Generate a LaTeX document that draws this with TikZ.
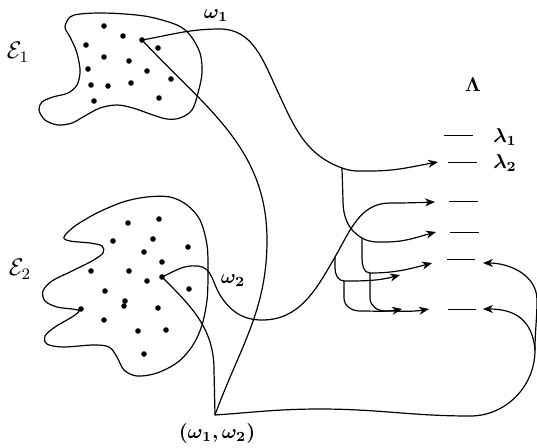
\documentclass[tikz,border=0pt]{standalone}
\usepackage{amsmath,amssymb,bm}
\usepackage{tikz}
\usetikzlibrary{arrows.meta}

\tikzset{
  lvl/.style={inner sep=0pt,minimum width=13.5pt,minimum height=0pt},
  flow/.style={-{Stealth[length=5pt,width=4pt]}},
  lab/.style={font=\normalsize},
}

\begin{document}
\begin{tikzpicture}[x=0.5pt,y=0.5pt,semithick]
    \useasboundingbox (0,0) rectangle (537,-447);
    % Region E_1
    \draw plot[smooth cycle,tension=0.55] coordinates {
      (65,-27) (70,-17) (80,-14) (100,-13) (125,-14) (150,-17) (177,-25)
      (190,-35) (200,-53) (202,-73) (198,-93) (192,-110) (180,-118)
      (167,-119) (153,-115) (133,-108) (117,-105) (100,-108) (83,-117)
      (72,-123) (58,-125) (45,-120) (39,-110) (42,-102) (53,-97)
      (68,-93) (77,-85) (80,-73) (79,-62) (76,-50) (70,-37)};
    \foreach \x/\y in {104/26,123/36,158/48,86/45,104/57,129/61,88/69,
      147/71,171/79,91/85,108/86,131/83,94/101,159/98}
      \fill (\x,-\y) circle (1.4pt);
    % Region E_2
    \draw plot[smooth cycle,tension=0.55] coordinates {
      (64,-237) (75,-226) (97,-213) (123,-202) (147,-197) (170,-197)
      (187,-205) (200,-220) (207,-245) (208,-273) (207,-300) (202,-325)
      (193,-345) (178,-362) (157,-373) (137,-376) (124,-370) (117,-357)
      (109,-347) (93,-345) (63,-347) (47,-344) (45,-336) (55,-327)
      (72,-317) (79,-311) (72,-309) (57,-307) (45,-301) (43,-291)
      (52,-281) (72,-271) (92,-261) (103,-253) (102,-246) (90,-243)
      (70,-241)};
    \foreach \x/\y in {128/223,159/219,113/241,153/239,188/247,144/252,
      162/262,91/271,129/271,147/281,105/291,189/289,125/301,124/306,
      81/309,158/308,104/320,138/331,166/330,144/354}
      \fill (\x,-\y) circle (1.4pt);
    % Sample points
    \coordinate (w1) at (142,-40);
    \coordinate (w2) at (162,-277);
    \coordinate (w12) at (215,-415);
    \fill (w1) circle (1.4pt);
    \fill (w2) circle (1.4pt);
    % Labels
    \node[font=\large] (E1) at (18,-52) {$\mathcal{E}_1$};
    \node[font=\large] (E2) at (20,-269) {$\mathcal{E}_2$};
    \node[lab] (w1lab) at (216,-16) {$\bm{\omega_1}$};
    \node[lab] (w2lab) at (233,-281) {$\bm{\omega_2}$};
    \node[lab] (w12lab) at (217,-433) {$\bm{(\omega_1,\omega_2)}$};
    \node[lab] (Lam) at (473,-85) {$\bm{\Lambda}$};
    % Spectrum levels
    \node[lvl] (l1) at (458.5,-135) {};
    \node[lvl] (l2) at (462.5,-162) {};
    \node[lvl] (l3) at (463.5,-201) {};
    \node[lvl] (l4) at (464.5,-232) {};
    \node[lvl] (l5) at (461,-259) {};
    \node[lvl] (l6) at (462,-309) {};
    \foreach \n in {l1,l2,l3,l4,l5,l6}
      \draw[thin] (\n.west) -- (\n.east);
    \node[lab,anchor=west] (lam1) at (486,-137) {$\bm{\lambda_1}$};
    \node[lab,anchor=west] (lam2) at (486,-163) {$\bm{\lambda_2}$};
    % Arrow ends
    \coordinate (a2) at (438,-162);
    \coordinate (a3) at (435,-202);
    \coordinate (a4) at (436,-232);
    \coordinate (a5) at (432,-263);
    \coordinate (a6) at (429,-309);
    \coordinate (a7) at (400,-275);
    \coordinate (a8) at (402,-309);
    \coordinate (a9) at (483,-263);
    \coordinate (a10) at (483,-309);
    % Branch points
    \coordinate (b1) at (342,-168);
    \coordinate (c1) at (362,-238);
    \coordinate (c2) at (370,-273);
    \coordinate (c3) at (335,-257);
    \coordinate (c4) at (344,-281);
    \coordinate (s) at (535,-350);
    % Paths into (omega_1,omega_2)
    \draw (w1) to[out=-47,in=90] (267,-240) to[out=-90,in=70] (w12);
    \draw (w2) to[out=-45,in=90] (214,-370) -- (w12);
    % omega_1 path
    \draw[flow] (w1) to[out=10,in=180] (220,-29) to[out=0,in=115] (277,-90)
      to[out=-65,in=160] (b1) to[out=-20,in=180] (370,-171)
      to[out=0,in=190] (a2);
    \draw[flow] (b1) -- (343,-200) to[out=-90,in=150] (c1)
      to[out=-30,in=180] (385,-242) to[out=0,in=195] (a4);
    \draw[flow] (c1) -- (362,-258) to[out=-90,in=180] (c2)
      to[out=0,in=195] (a5);
    \draw[flow] (c2) -- (370,-298) to[out=-90,in=180] (385,-311)
      to[out=0,in=190] (a6);
    % omega_2 path
    \draw[flow] (w2) to[out=25,in=175] (198,-266) to[out=-5,in=122] (220,-295)
      to[out=-58,in=180] (262,-320) to[out=0,in=-120] (c3)
      to[out=60,in=180] (390,-203) to[out=0,in=182] (a3);
    \draw[flow] (c3) -- (335,-268) to[out=-90,in=180] (c4)
      to[out=0,in=195] (a7);
    \draw[flow] (c4) -- (344,-298) to[out=-90,in=180] (360,-311)
      to[out=0,in=190] (a8);
    % (omega_1,omega_2) path
    \draw (w12) to[out=4,in=180] (320,-409) to[out=0,in=180] (470,-416)
      to[out=0,in=-90] (s);
    \draw[flow] (s) to[out=90,in=-90] (537,-300) to[out=90,in=0] (a9);
    \draw[flow] (s) to[out=95,in=0,looseness=1.2] (a10);
\end{tikzpicture}
\end{document}
